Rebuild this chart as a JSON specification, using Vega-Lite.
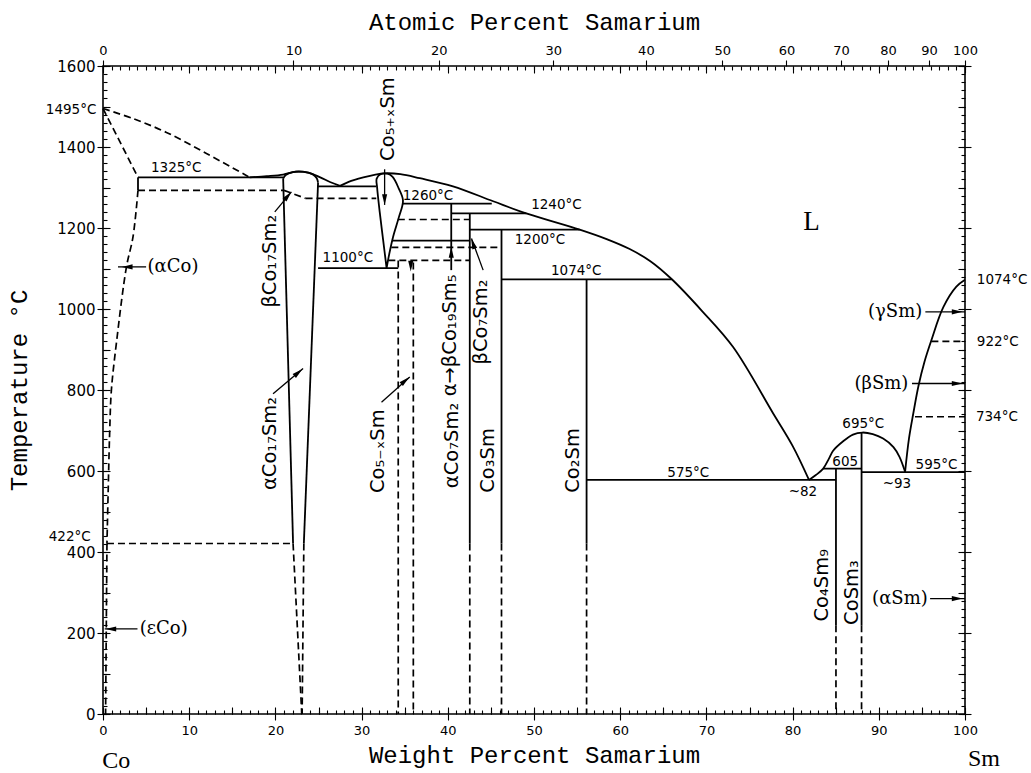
{
  "$schema": "https://vega.github.io/schema/vega-lite/v6.json",
  "width": 862,
  "height": 648,
  "autosize": "none",
  "padding": {"left": 103, "top": 66, "right": 66, "bottom": 59},
  "background": "white",
  "config": {
    "view": {"stroke": "black", "strokeWidth": 1.6},
    "axis": {
      "grid": false, "domain": false, "tickColor": "black", "tickWidth": 1.1,
      "labelColor": "black", "titleColor": "black", "labelFont": "DejaVu Sans",
      "labelFontSize": 13, "labelFlush": false, "labelOverlap": false, "format": "d",
      "titleFont": "Liberation Mono", "titleFontSize": 24, "titleFontWeight": "normal"
    }
  },
  "datasets": {
    "solidSeg": [
      {"w": 4.06, "t": 1325, "w2": 20.9, "t2": 1325},
      {"w": 4.06, "t": 1325, "w2": 4.06, "t2": 1293},
      {"w": 20.9, "t": 1322, "w2": 22.05, "t2": 421},
      {"w": 24.95, "t": 1312, "w2": 23.3, "t2": 421},
      {"w": 24.95, "t": 1303, "w2": 31.7, "t2": 1303},
      {"w": 24.95, "t": 1101, "w2": 34.25, "t2": 1101},
      {"w": 34.75, "t": 1260, "w2": 45.1, "t2": 1260},
      {"w": 40.4, "t": 1236, "w2": 49.1, "t2": 1236},
      {"w": 42.55, "t": 1196, "w2": 55.3, "t2": 1196},
      {"w": 46.23, "t": 1073, "w2": 65.96, "t2": 1073},
      {"w": 40.4, "t": 1260, "w2": 40.4, "t2": 1096},
      {"w": 42.55, "t": 1236, "w2": 42.55, "t2": 421},
      {"w": 46.23, "t": 1196, "w2": 46.23, "t2": 421},
      {"w": 56.1, "t": 1073, "w2": 56.1, "t2": 421},
      {"w": 33.55, "t": 1169, "w2": 42.55, "t2": 1169},
      {"w": 56.1, "t": 578, "w2": 85.03, "t2": 578},
      {"w": 83.55, "t": 606, "w2": 88.0, "t2": 606},
      {"w": 88.0, "t": 597, "w2": 100, "t2": 597},
      {"w": 85.03, "t": 606, "w2": 85.03, "t2": 219},
      {"w": 88.0, "t": 695, "w2": 88.0, "t2": 219}
    ],
    "solidCurve": [
      {"id": "liqA", "o": 1, "w": 17.02, "t": 1325},
      {"id": "liqA", "o": 2, "w": 19.0, "t": 1328},
      {"id": "liqA", "o": 3, "w": 20.9, "t": 1332},
      {"id": "liqA", "o": 4, "w": 22.4, "t": 1339},
      {"id": "liqA", "o": 5, "w": 23.9, "t": 1336},
      {"id": "liqA", "o": 6, "w": 25.2, "t": 1325},
      {"id": "liqA", "o": 7, "w": 26.4, "t": 1313},
      {"id": "liqA", "o": 8, "w": 27.5, "t": 1304},
      {"id": "cap", "o": 1, "w": 20.9, "t": 1322},
      {"id": "cap", "o": 2, "w": 21.2, "t": 1331},
      {"id": "cap", "o": 3, "w": 22.0, "t": 1338},
      {"id": "cap", "o": 4, "w": 23.2, "t": 1339},
      {"id": "cap", "o": 5, "w": 24.3, "t": 1333},
      {"id": "cap", "o": 6, "w": 24.8, "t": 1323},
      {"id": "cap", "o": 7, "w": 24.95, "t": 1312},
      {"id": "liqB", "o": 1, "w": 27.5, "t": 1304},
      {"id": "liqB", "o": 2, "w": 28.5, "t": 1314},
      {"id": "liqB", "o": 3, "w": 30.2, "t": 1325},
      {"id": "liqB", "o": 4, "w": 31.6, "t": 1332},
      {"id": "liqB", "o": 5, "w": 32.7, "t": 1335},
      {"id": "liqB", "o": 6, "w": 34.5, "t": 1333},
      {"id": "liqB", "o": 7, "w": 36.75, "t": 1323},
      {"id": "liqB", "o": 8, "w": 40.6, "t": 1303},
      {"id": "liqB", "o": 9, "w": 45.26, "t": 1266},
      {"id": "liqB", "o": 10, "w": 49.1, "t": 1236},
      {"id": "liqB", "o": 11, "w": 55.3, "t": 1196},
      {"id": "liqB", "o": 12, "w": 58.5, "t": 1172},
      {"id": "liqB", "o": 13, "w": 61.1, "t": 1148},
      {"id": "liqB", "o": 14, "w": 63.5, "t": 1118},
      {"id": "liqB", "o": 15, "w": 65.96, "t": 1074},
      {"id": "liqB", "o": 16, "w": 69.5, "t": 995},
      {"id": "liqB", "o": 17, "w": 73.1, "t": 906},
      {"id": "liqB", "o": 18, "w": 77.75, "t": 742},
      {"id": "liqB", "o": 19, "w": 80.0, "t": 662},
      {"id": "liqB", "o": 20, "w": 81.9, "t": 578},
      {"id": "tear", "o": 1, "w": 32.9, "t": 1101},
      {"id": "tear", "o": 2, "w": 32.5, "t": 1170},
      {"id": "tear", "o": 3, "w": 32.1, "t": 1240},
      {"id": "tear", "o": 4, "w": 31.8, "t": 1300},
      {"id": "tear", "o": 5, "w": 31.75, "t": 1322},
      {"id": "tear", "o": 6, "w": 32.2, "t": 1333},
      {"id": "tear", "o": 7, "w": 33.0, "t": 1334},
      {"id": "tear", "o": 8, "w": 33.6, "t": 1326},
      {"id": "tear", "o": 9, "w": 34.3, "t": 1298},
      {"id": "tear", "o": 10, "w": 34.8, "t": 1268},
      {"id": "tear", "o": 11, "w": 34.3, "t": 1225},
      {"id": "tear", "o": 12, "w": 33.65, "t": 1178},
      {"id": "tear", "o": 13, "w": 33.2, "t": 1135},
      {"id": "tear", "o": 14, "w": 32.9, "t": 1101},
      {"id": "dome", "o": 1, "w": 81.9, "t": 578},
      {"id": "dome", "o": 2, "w": 82.7, "t": 590},
      {"id": "dome", "o": 3, "w": 83.55, "t": 606},
      {"id": "dome", "o": 4, "w": 84.2, "t": 630},
      {"id": "dome", "o": 5, "w": 84.7, "t": 650},
      {"id": "dome", "o": 6, "w": 85.9, "t": 674},
      {"id": "dome", "o": 7, "w": 87.0, "t": 690},
      {"id": "dome", "o": 8, "w": 88.1, "t": 695},
      {"id": "dome", "o": 9, "w": 89.3, "t": 691},
      {"id": "dome", "o": 10, "w": 90.5, "t": 680},
      {"id": "dome", "o": 11, "w": 91.7, "t": 659},
      {"id": "dome", "o": 12, "w": 92.4, "t": 635},
      {"id": "dome", "o": 13, "w": 93.05, "t": 598},
      {"id": "smliq", "o": 1, "w": 93.05, "t": 598},
      {"id": "smliq", "o": 2, "w": 93.5, "t": 680},
      {"id": "smliq", "o": 3, "w": 94.0, "t": 742},
      {"id": "smliq", "o": 4, "w": 94.6, "t": 810},
      {"id": "smliq", "o": 5, "w": 95.3, "t": 870},
      {"id": "smliq", "o": 6, "w": 96.1, "t": 923},
      {"id": "smliq", "o": 7, "w": 97.5, "t": 1005},
      {"id": "smliq", "o": 8, "w": 99.0, "t": 1055},
      {"id": "smliq", "o": 9, "w": 100, "t": 1072}
    ],
    "dashSeg": [
      {"w": 0.46, "t": 421, "w2": 22.05, "t2": 421},
      {"w": 22.05, "t": 421, "w2": 23.06, "t2": 0},
      {"w": 23.3, "t": 421, "w2": 23.1, "t2": 0},
      {"w": 34.2, "t": 1221, "w2": 42.55, "t2": 1221},
      {"w": 33.45, "t": 1152, "w2": 46.0, "t2": 1152},
      {"w": 33.1, "t": 1120, "w2": 42.55, "t2": 1120},
      {"w": 34.25, "t": 1120, "w2": 34.25, "t2": 0},
      {"w": 36.0, "t": 1115, "w2": 36.0, "t2": 0},
      {"w": 42.55, "t": 421, "w2": 42.55, "t2": 0},
      {"w": 46.23, "t": 421, "w2": 46.23, "t2": 0},
      {"w": 56.1, "t": 421, "w2": 56.1, "t2": 0},
      {"w": 85.03, "t": 219, "w2": 85.03, "t2": 0},
      {"w": 88.0, "t": 219, "w2": 88.0, "t2": 0},
      {"w": 96.1, "t": 920, "w2": 100, "t2": 920},
      {"w": 94.2, "t": 734, "w2": 100, "t2": 734},
      {"w": 0, "t": 1495, "w2": 4.06, "t2": 1325},
      {"w": 4.06, "t": 1293, "w2": 21.0, "t2": 1293},
      {"w": 21.0, "t": 1293, "w2": 23.5, "t2": 1273},
      {"w": 23.5, "t": 1273, "w2": 31.7, "t2": 1273},
      {"w": 0.46, "t": 421, "w2": 0.3, "t2": 0}
    ],
    "dashCurve": [
      {"id": "liqL", "o": 1, "w": 0, "t": 1495},
      {"id": "liqL", "o": 2, "w": 3.5, "t": 1470},
      {"id": "liqL", "o": 3, "w": 7.36, "t": 1436},
      {"id": "liqL", "o": 4, "w": 12.0, "t": 1384},
      {"id": "liqL", "o": 5, "w": 17.02, "t": 1325},
      {"id": "solv", "o": 1, "w": 4.06, "t": 1293},
      {"id": "solv", "o": 2, "w": 3.48, "t": 1178},
      {"id": "solv", "o": 3, "w": 2.72, "t": 1104},
      {"id": "solv", "o": 4, "w": 1.55, "t": 915},
      {"id": "solv", "o": 5, "w": 0.97, "t": 799},
      {"id": "solv", "o": 6, "w": 0.78, "t": 700},
      {"id": "solv", "o": 7, "w": 0.6, "t": 550},
      {"id": "solv", "o": 8, "w": 0.46, "t": 421}
    ],
    "arrowLine": [
      {"w": 1.74, "t": 1104, "w2": 5.0, "t2": 1104},
      {"w": 0.2, "t": 210, "w2": 4.0, "t2": 210},
      {"w": 95.4, "t": 993, "w2": 100, "t2": 993},
      {"w": 93.85, "t": 816, "w2": 100, "t2": 816},
      {"w": 95.95, "t": 285, "w2": 100, "t2": 285},
      {"w": 19.93, "t": 1240, "w2": 21.86, "t2": 1289},
      {"w": 19.73, "t": 791, "w2": 23.21, "t2": 853},
      {"w": 32.31, "t": 770, "w2": 35.59, "t2": 832},
      {"w": 32.67, "t": 1345, "w2": 32.67, "t2": 1257},
      {"w": 44.1, "t": 1096, "w2": 42.75, "t2": 1174}
    ],
    "arrowHead": [
      {"w": 2.9, "t": 1104, "heading": 270},
      {"w": 1.0, "t": 210, "heading": 270},
      {"w": 99.0, "t": 993, "heading": 90},
      {"w": 99.0, "t": 816, "heading": 90},
      {"w": 99.0, "t": 285, "heading": 90},
      {"w": 21.4, "t": 1278, "heading": 40},
      {"w": 22.6, "t": 842, "heading": 50},
      {"w": 35.0, "t": 822, "heading": 49},
      {"w": 32.67, "t": 1272, "heading": 180},
      {"w": 42.95, "t": 1160, "heading": 340},
      {"w": 40.4, "t": 1138, "heading": 0},
      {"w": 35.7, "t": 1108, "heading": 180}
    ],
    "tempLabels": [
      {"w": -3.7, "t": 1492, "label": "1495°C"},
      {"w": 8.5, "t": 1347, "label": "1325°C"},
      {"w": 37.7, "t": 1279, "label": "1260°C"},
      {"w": 52.6, "t": 1256, "label": "1240°C"},
      {"w": 50.7, "t": 1170, "label": "1200°C"},
      {"w": 28.4, "t": 1125, "label": "1100°C"},
      {"w": 54.9, "t": 1094, "label": "1074°C"},
      {"w": 67.9, "t": 594, "label": "575°C"},
      {"w": 81.2, "t": 548, "label": "~82"},
      {"w": 86.1, "t": 622, "label": "605"},
      {"w": 88.2, "t": 717, "label": "695°C"},
      {"w": 96.7, "t": 614, "label": "595°C"},
      {"w": 92.1, "t": 567, "label": "~93"},
      {"w": 104.3, "t": 1071, "label": "1074°C"},
      {"w": 103.8, "t": 918, "label": "922°C"},
      {"w": 103.7, "t": 734, "label": "734°C"},
      {"w": -3.86, "t": 437, "label": "422°C"}
    ],
    "rotLabels": [
      {"w": 19.35, "t": 1118, "label": "βCo₁₇Sm₂"},
      {"w": 19.35, "t": 668, "label": "αCo₁₇Sm₂"},
      {"w": 33.07, "t": 1469, "label": "Co₅₊ₓSm"},
      {"w": 31.9, "t": 649, "label": "Co₅₋ₓSm"},
      {"w": 40.3, "t": 935, "label": "α→βCo₁₉Sm₅"},
      {"w": 40.5, "t": 663, "label": "αCo₇Sm₂"},
      {"w": 43.9, "t": 968, "label": "βCo₇Sm₂"},
      {"w": 44.7, "t": 626, "label": "Co₃Sm"},
      {"w": 54.5, "t": 626, "label": "Co₂Sm"},
      {"w": 83.4, "t": 318, "label": "Co₄Sm₉"},
      {"w": 86.85, "t": 300, "label": "CoSm₃"}
    ],
    "phaseLabels": [
      {"w": 8.12, "t": 1104, "label": "(αCo)"},
      {"w": 7.04, "t": 210, "label": "(εCo)"},
      {"w": 91.9, "t": 993, "label": "(γSm)"},
      {"w": 90.3, "t": 816, "label": "(βSm)"},
      {"w": 92.45, "t": 285, "label": "(αSm)"}
    ],
    "elemLabels": [
      {"w": 1.55, "t": -115, "label": "Co"},
      {"w": 102.2, "t": -112, "label": "Sm"}
    ],
    "liquidLabel": [
      {"w": 82.2, "t": 1215, "label": "L"}
    ]
  },
  "layer": [
    {
      "data": {"name": "solidSeg"},
      "mark": {"type": "rule", "color": "black", "strokeWidth": 1.8},
      "encoding": {
        "x": {"field": "w", "type": "quantitative", "scale": {"domain": [0, 100], "nice": false, "zero": false},
              "axis": {"orient": "bottom", "values": [0, 10, 20, 30, 40, 50, 60, 70, 80, 90, 100], "tickSize": 6, "labelFontSize": 13, "labelPadding": 4, "title": "Weight Percent Samarium", "titlePadding": 6}},
        "y": {"field": "t", "type": "quantitative", "scale": {"domain": [0, 1600], "nice": false, "zero": false},
              "axis": {"orient": "left", "values": [0, 200, 400, 600, 800, 1000, 1200, 1400, 1600], "tickSize": 6, "labelFontSize": 15, "labelPadding": 2, "title": "Temperature °C", "titlePadding": 25}},
        "x2": {"field": "w2"},
        "y2": {"field": "t2"}
      }
    },
    {
      "data": {"name": "solidCurve"},
      "mark": {"type": "line", "interpolate": "catmull-rom", "color": "black", "strokeWidth": 1.8},
      "encoding": {
        "x": {"field": "w", "type": "quantitative", "scale": {"domain": [0, 100], "nice": false, "zero": false},
              "axis": {"orient": "bottom", "tickCount": 100, "tickSize": -4, "labels": false, "title": null}},
        "y": {"field": "t", "type": "quantitative", "scale": {"domain": [0, 1600], "nice": false, "zero": false},
              "axis": {"orient": "left", "tickCount": 80, "tickSize": -4, "labels": false, "title": null}},
        "detail": {"field": "id"},
        "order": {"field": "o", "type": "quantitative"}
      }
    },
    {
      "data": {"name": "dashSeg"},
      "mark": {"type": "rule", "color": "black", "strokeWidth": 1.7, "strokeDash": [7, 4]},
      "encoding": {
        "x": {"field": "w", "type": "quantitative", "scale": {"domain": [0, 100], "nice": false, "zero": false},
              "axis": {"orient": "bottom", "tickCount": 20, "tickSize": -7, "labels": false, "title": null}},
        "y": {"field": "t", "type": "quantitative", "scale": {"domain": [0, 1600], "nice": false, "zero": false},
              "axis": {"orient": "left", "tickCount": 16, "tickSize": -7, "labels": false, "title": null}},
        "x2": {"field": "w2"},
        "y2": {"field": "t2"}
      }
    },
    {
      "data": {"name": "dashCurve"},
      "mark": {"type": "line", "interpolate": "catmull-rom", "color": "black", "strokeWidth": 1.7, "strokeDash": [7, 4]},
      "encoding": {
        "x": {"field": "w", "type": "quantitative", "scale": {"domain": [0, 100], "nice": false, "zero": false},
              "axis": {"orient": "top", "values": [0, 22.09, 38.94, 52.23, 62.98, 71.84, 79.28, 85.62, 91.08, 95.83, 100], "tickSize": 6, "labelFontSize": 13, "labelPadding": 3,
                       "labelExpr": "datum.value < 1 ? '0' : datum.value < 30 ? '10' : datum.value < 45 ? '20' : datum.value < 57 ? '30' : datum.value < 67 ? '40' : datum.value < 75 ? '50' : datum.value < 82 ? '60' : datum.value < 88 ? '70' : datum.value < 93 ? '80' : datum.value < 98 ? '90' : '100'",
                       "title": "Atomic Percent Samarium", "titlePadding": 10}},
        "y": {"field": "t", "type": "quantitative", "scale": {"domain": [0, 1600], "nice": false, "zero": false},
              "axis": {"orient": "right", "tickCount": 8, "tickSize": 6, "labels": false, "title": null}},
        "detail": {"field": "id"},
        "order": {"field": "o", "type": "quantitative"}
      }
    },
    {
      "data": {"name": "arrowLine"},
      "mark": {"type": "rule", "color": "black", "strokeWidth": 1.3},
      "encoding": {
        "x": {"field": "w", "type": "quantitative", "scale": {"domain": [0, 100], "nice": false, "zero": false},
              "axis": {"orient": "top", "tickCount": 100, "tickSize": -4, "labels": false, "title": null}},
        "y": {"field": "t", "type": "quantitative", "scale": {"domain": [0, 1600], "nice": false, "zero": false},
              "axis": {"orient": "right", "tickCount": 80, "tickSize": -4, "labels": false, "title": null}},
        "x2": {"field": "w2"},
        "y2": {"field": "t2"}
      }
    },
    {
      "data": {"name": "arrowHead"},
      "mark": {"type": "point", "shape": "M0,-1L0.42,0.75L-0.42,0.75Z", "filled": true, "color": "black", "size": 150, "opacity": 1, "strokeWidth": 0},
      "encoding": {
        "x": {"field": "w", "type": "quantitative", "scale": {"domain": [0, 100], "nice": false, "zero": false},
              "axis": {"orient": "top", "values": [0, 10, 20, 30, 40, 50, 60, 70, 80, 90, 100], "tickSize": -7, "labels": false, "title": null}},
        "y": {"field": "t", "type": "quantitative", "scale": {"domain": [0, 1600], "nice": false, "zero": false},
              "axis": {"orient": "right", "tickCount": 16, "tickSize": -7, "labels": false, "title": null}},
        "angle": {"field": "heading", "type": "quantitative", "scale": {"domain": [0, 360], "range": [0, 360]}, "legend": null}
      }
    },
    {
      "data": {"name": "tempLabels"},
      "mark": {"type": "text", "font": "DejaVu Sans", "fontSize": 13.5, "align": "center", "baseline": "middle", "color": "black"},
      "encoding": {
        "x": {"field": "w", "type": "quantitative", "scale": {"domain": [0, 100], "nice": false, "zero": false}, "axis": null},
        "y": {"field": "t", "type": "quantitative", "scale": {"domain": [0, 1600], "nice": false, "zero": false}, "axis": null},
        "text": {"field": "label"}
      }
    },
    {
      "data": {"name": "rotLabels"},
      "mark": {"type": "text", "font": "DejaVu Sans", "fontSize": 19.5, "angle": 270, "align": "center", "baseline": "middle", "color": "black"},
      "encoding": {
        "x": {"field": "w", "type": "quantitative", "scale": {"domain": [0, 100], "nice": false, "zero": false}, "axis": null},
        "y": {"field": "t", "type": "quantitative", "scale": {"domain": [0, 1600], "nice": false, "zero": false}, "axis": null},
        "text": {"field": "label"}
      }
    },
    {
      "data": {"name": "phaseLabels"},
      "mark": {"type": "text", "font": "DejaVu Serif", "fontSize": 18, "align": "center", "baseline": "middle", "color": "black"},
      "encoding": {
        "x": {"field": "w", "type": "quantitative", "scale": {"domain": [0, 100], "nice": false, "zero": false}, "axis": null},
        "y": {"field": "t", "type": "quantitative", "scale": {"domain": [0, 1600], "nice": false, "zero": false}, "axis": null},
        "text": {"field": "label"}
      }
    },
    {
      "data": {"name": "elemLabels"},
      "mark": {"type": "text", "font": "Liberation Serif", "fontSize": 24, "align": "center", "baseline": "middle", "color": "black"},
      "encoding": {
        "x": {"field": "w", "type": "quantitative", "scale": {"domain": [0, 100], "nice": false, "zero": false}, "axis": null},
        "y": {"field": "t", "type": "quantitative", "scale": {"domain": [0, 1600], "nice": false, "zero": false}, "axis": null},
        "text": {"field": "label"}
      }
    },
    {
      "data": {"name": "liquidLabel"},
      "mark": {"type": "text", "font": "Liberation Serif", "fontSize": 27, "align": "center", "baseline": "middle", "color": "black"},
      "encoding": {
        "x": {"field": "w", "type": "quantitative", "scale": {"domain": [0, 100], "nice": false, "zero": false}, "axis": null},
        "y": {"field": "t", "type": "quantitative", "scale": {"domain": [0, 1600], "nice": false, "zero": false}, "axis": null},
        "text": {"field": "label"}
      }
    }
  ],
  "resolve": {"axis": {"x": "independent", "y": "independent"}}
}
